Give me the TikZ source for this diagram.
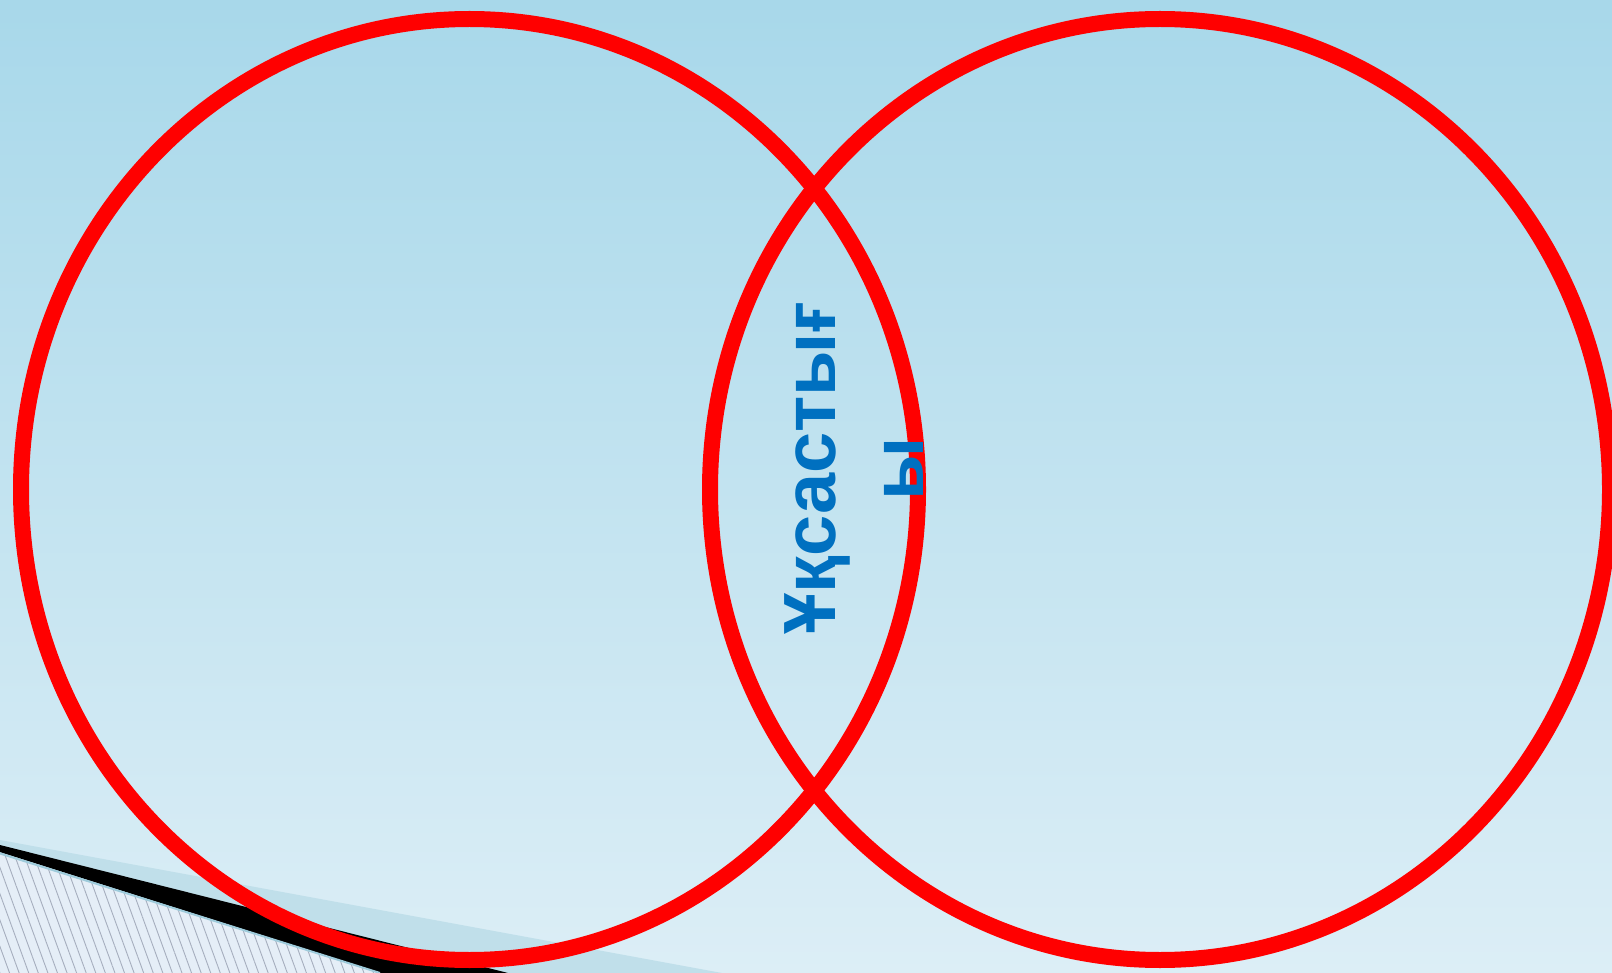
\documentclass[tikz,border=0pt]{standalone}
\usepackage{fontspec}
\newfontfamily\lbsans{Liberation Sans}
\usetikzlibrary{patterns.meta}
\definecolor{bgtop}{RGB}{168,216,234}
\definecolor{bgbot}{RGB}{220,238,246}
\definecolor{bandblue}{RGB}{192,223,234}
\definecolor{hatchbg}{RGB}{229,238,247}
\definecolor{hatchline}{RGB}{166,174,190}
\definecolor{edgeblue}{RGB}{158,203,219}
\definecolor{txtblue}{RGB}{0,112,192}
\definecolor{ringred}{RGB}{255,0,0}
\tikzset{
  ring/.style={draw=ringred, line width=16pt},
  label/.style={text=txtblue, font=\lbsans\bfseries\fontsize{74}{88}\selectfont, rotate=90, anchor=base, inner sep=0pt, outer sep=0pt},
}
\begin{document}
\begin{tikzpicture}[x=1pt,y=-1pt]
\useasboundingbox (0,0) rectangle (1612,973);
% background
\shade[top color=bgtop, bottom color=bgbot] (0,0) rectangle (1612,973);
% bottom-left decoration
\fill[bandblue] (0,840) -- (722,973) -- (0,973) -- cycle;
\fill[hatchbg] (0,854) -- (379,973) -- (0,973) -- cycle;
\fill[pattern={Lines[angle=-70,distance=9pt,line width=0.9pt]}, pattern color=hatchline] (0,854) -- (379,973) -- (0,973) -- cycle;
\fill[black] (0,845) -- (508,973) -- (381,973) -- (0,852) -- cycle;
\draw[edgeblue, line width=2pt] (0,853.5) -- (380,973);
% circles
\coordinate (cl) at (469.5,489.5);
\coordinate (cr) at (1160,489.5);
\draw[ring] (cl) ellipse [x radius=448.5, y radius=470.5];
\draw[ring] (cr) ellipse [x radius=450, y radius=470.5];
% text
\node[label] (t1) at (835,468.5) {Ұқсастығ};
\node[label] (t2) at (923,468.5) {ы};
\end{tikzpicture}
\end{document}
